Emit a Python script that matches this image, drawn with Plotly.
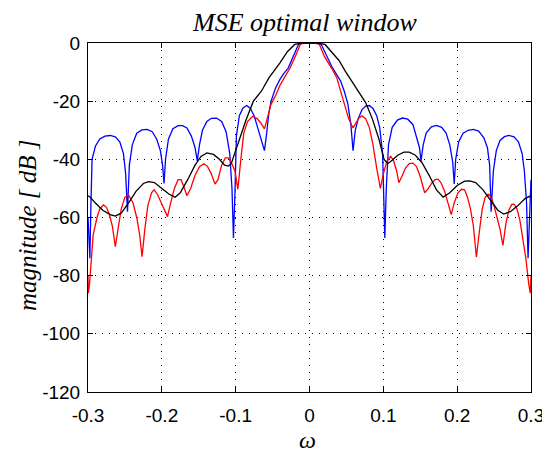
import plotly.graph_objects as go

# ---------------- data ----------------
blue_x = [-0.300, -0.2985, -0.2975, -0.2960, -0.2945, -0.2900, -0.2840, -0.2770, -0.2700, -0.2630,
          -0.2570, -0.2520, -0.2490, -0.2465, -0.2440, -0.2400, -0.2340, -0.2270, -0.2200, -0.2130,
          -0.2070, -0.2020, -0.1990, -0.1970, -0.1950, -0.1910, -0.1850, -0.1780, -0.1720, -0.1660,
          -0.1600, -0.1550, -0.1520, -0.1490, -0.1450, -0.1390, -0.1330, -0.1260, -0.1190, -0.1130,
          -0.1080, -0.1050, -0.1030, -0.1010, -0.0990, -0.0950, -0.0900, -0.0850, -0.0800, -0.0750,
          -0.0700, -0.0650, -0.0610, -0.0580, -0.0550, -0.0520, -0.0460, -0.0400, -0.0350, -0.0290,
          -0.0220, -0.0150, -0.0080, 0.0000, 0.0080, 0.0160, 0.0230, 0.0300, 0.0360, 0.0420,
          0.0470, 0.0520, 0.0560, 0.0590, 0.0620, 0.0660, 0.0710, 0.0760, 0.0810, 0.0860,
          0.0910, 0.0950, 0.0990, 0.1000, 0.1020, 0.1040, 0.1070, 0.1120, 0.1190, 0.1260,
          0.1330, 0.1400, 0.1450, 0.1490, 0.1510, 0.1540, 0.1580, 0.1650, 0.1720, 0.1790,
          0.1850, 0.1900, 0.1940, 0.1960, 0.1980, 0.2020, 0.2080, 0.2150, 0.2220, 0.2290,
          0.2360, 0.2410, 0.2440, 0.2460, 0.2490, 0.2530, 0.2580, 0.2640, 0.2700, 0.2770,
          0.2830, 0.2880, 0.2910, 0.2940, 0.2960, 0.2980, 0.2990, 0.3000]
blue_y = [-60, -70, -74, -55, -40, -35.5, -33, -32, -31.8, -32.3,
          -34, -38, -45, -58, -42, -35, -31, -29.9, -29.7, -30.5,
          -33, -37, -42, -48.3, -40, -33, -29.5, -28.4, -28.4, -29.2,
          -32, -36, -40.5, -35, -30, -27, -25.9, -25.8, -27, -30.5,
          -38, -50, -67, -52, -32, -25, -22.3, -21.5, -22.5, -25,
          -29, -33, -37, -31, -24, -20, -15.5, -12.5, -10.5, -8.7,
          -4.5, -0.5, 0, 0, 0, -0.5, -4.5, -8.0, -10.5, -13,
          -16.5, -21, -28, -37, -30, -26, -23, -21.7, -21.5, -22.5,
          -25, -29, -38, -50, -67, -50, -35, -29, -26.5, -25.8,
          -26.2, -28, -32, -36, -40.5, -35, -31, -28.8, -28.3, -29,
          -31, -35, -41, -48.5, -40, -34, -31, -30, -29.7, -30.3,
          -32.5, -36, -42, -58, -44, -37, -33.5, -32.2, -31.8, -32.3,
          -34, -38, -44, -55, -74, -62, -52, -47]

red_x = [-0.3000, -0.2995, -0.2980, -0.2960, -0.2930, -0.2878, -0.2840, -0.2790, -0.2750, -0.2710,
         -0.2670, -0.2630, -0.2590, -0.2550, -0.2500, -0.2450, -0.2390, -0.2340, -0.2300, -0.2268,
         -0.2230, -0.2190, -0.2140, -0.2105, -0.2060, -0.2010, -0.1960, -0.1923, -0.1880, -0.1830,
         -0.1780, -0.1740, -0.1700, -0.1660, -0.1610, -0.1550, -0.1490, -0.1430, -0.1380, -0.1330,
         -0.1280, -0.1240, -0.1190, -0.1140, -0.1100, -0.1060, -0.1010, -0.0970, -0.0930, -0.0890,
         -0.0840, -0.0770, -0.0710, -0.0660, -0.0610, -0.0570, -0.0520, -0.0455, -0.0400, -0.0330,
         -0.0265, -0.0190, -0.0120, -0.0050, 0.0000, 0.0050, 0.0130, 0.0200, 0.0300, 0.0370,
         0.0437, 0.0480, 0.0530, 0.0590, 0.0630, 0.0670, 0.0710, 0.0760, 0.0810, 0.0860,
         0.0910, 0.0960, 0.1000, 0.1050, 0.1100, 0.1140, 0.1180, 0.1210, 0.1250, 0.1300,
         0.1350, 0.1400, 0.1450, 0.1500, 0.1560, 0.1610, 0.1660, 0.1700, 0.1740, 0.1780,
         0.1830, 0.1880, 0.1920, 0.1960, 0.2010, 0.2060, 0.2100, 0.2140, 0.2180, 0.2220,
         0.2260, 0.2300, 0.2340, 0.2380, 0.2420, 0.2460, 0.2500, 0.2540, 0.2580, 0.2620,
         0.2660, 0.2700, 0.2740, 0.2770, 0.2810, 0.2850, 0.2890, 0.2930, 0.2970, 0.2990,
         0.3000]
red_y = [-80, -86, -83, -75, -66, -60, -57, -55.7, -56.5, -59,
         -63, -70, -63, -57, -53, -52.3, -55, -60, -66, -73.5,
         -64, -56, -51.5, -50.5, -52, -55, -58, -59.7, -55, -50,
         -47, -47, -49.5, -52.5, -50, -45.5, -42.5, -41.5, -42.5, -45,
         -48.5, -47, -42, -39.5, -39.5, -41, -44, -50.3, -40, -31,
         -27, -25.2, -26, -27.5, -29.5, -26, -21, -17.9, -14.5, -11.5,
         -8.7, -4.5, -0.3, 0, 0, 0, -0.3, -4.5, -8.7, -12,
         -17.9, -22, -26, -29.2, -27.5, -25.8, -25, -26, -29, -35,
         -43, -50, -45, -40.5, -39, -40.5, -44, -48, -46, -43,
         -41.5, -41.3, -42.5, -46, -51.5, -50, -48, -47, -46.8, -48,
         -51, -55, -59, -55, -51.5, -50.3, -50.5, -53, -57, -63,
         -73.6, -65, -57, -53, -52, -53, -56, -60, -64, -69.6,
         -62, -57.5, -55.5, -55.4, -57, -61, -67, -74, -83, -86,
         -80]

black_x = [-0.300, -0.297, -0.290, -0.280, -0.270, -0.263, -0.255, -0.245, -0.235, -0.225,
           -0.218, -0.210, -0.200, -0.190, -0.182, -0.175, -0.165, -0.155, -0.147, -0.139,
           -0.130, -0.122, -0.115, -0.110, -0.106, -0.100, -0.094, -0.086, -0.076, -0.065,
           -0.055, -0.045, -0.040, -0.030, -0.020, -0.010, 0.000, 0.010, 0.021, 0.030,
           0.040, 0.048, 0.058, 0.066, 0.076, 0.085, 0.094, 0.101, 0.106, 0.112,
           0.120, 0.128, 0.135, 0.143, 0.152, 0.162, 0.172, 0.181, 0.190, 0.200,
           0.210, 0.217, 0.225, 0.235, 0.245, 0.255, 0.263, 0.272, 0.282, 0.292,
           0.300]
black_y = [-52.5, -53, -55, -57.5, -59, -59.5, -58.5, -55, -51, -48.3,
           -47.7, -48, -50, -52, -53, -51.5, -47, -42, -39, -37.8,
           -38.3, -40, -42, -42.3, -41.5, -37, -32, -26.5, -20, -16.5,
           -12, -8.7, -6.8, -3, -0.5, 0, 0, 0, -0.5, -3,
           -6, -9.5, -13.5, -16.5, -20.5, -26, -33, -40, -41.5, -40.3,
           -38.5, -37.5, -37.5, -38.5, -41, -45.5, -50.5, -53, -51.5, -49,
           -47.5, -47.4, -48, -50.5, -54, -57.5, -58.8, -58, -56, -53.5,
           -52.5]

xtick_vals = [-0.3, -0.2, -0.1, 0, 0.1, 0.2, 0.3]
xtick_text = ["-0.3", "-0.2", "-0.1", "0", "0.1", "0.2", "0.3"]
ytick_vals = [-120, -100, -80, -60, -40, -20, 0]
ytick_text = ["-120", "-100", "-80", "-60", "-40", "-20", "0"]

title_text = "MSE optimal window"
ylabel_text = "magnitude [ dB ]"
xlabel_text = "ω"

# ---------------- figure ----------------
fig = go.Figure()
for xs, ys, col in [(blue_x, blue_y, "#0000FF"), (red_x, red_y, "#FF0000"), (black_x, black_y, "#000000")]:
    fig.add_trace(go.Scatter(x=xs, y=ys, mode="lines", line=dict(color=col, width=1.3),
                             showlegend=False, hoverinfo="skip", cliponaxis=True))

axis_common = dict(
    automargin=False,
    showline=True, linecolor="black", linewidth=1, mirror="ticks",
    ticks="inside", ticklen=5, tickcolor="black", tickwidth=1,
    showgrid=True, gridcolor="black", gridwidth=1, griddash="1px,6px",
    zeroline=False,
    tickfont=dict(family="Liberation Sans, Arial", size=19, color="black"),
)
fig.update_xaxes(range=[-0.3, 0.3], tickmode="array", tickvals=xtick_vals, ticktext=xtick_text,
                 ticklabelstandoff=6, **axis_common)
fig.update_yaxes(range=[-120, 0], tickmode="array", tickvals=ytick_vals, ticktext=ytick_text,
                 ticklabelstandoff=3, **axis_common)

# The page body adds an 8px offset, so the figure is sized to fit the 550x454 window.
serif = "Liberation Serif, Times New Roman, serif"
fig.update_layout(
    template="none",
    width=542, height=446,
    margin=dict(l=80, r=19, t=35, b=62, autoexpand=False),
    paper_bgcolor="white", plot_bgcolor="white",
    annotations=[
        dict(text="<i>" + title_text + "</i>", xref="paper", yref="paper",
             x=0.49, y=1 + 20.5 / 349, xanchor="center", yanchor="middle", showarrow=False,
             borderpad=0, font=dict(family=serif, size=26, color="black")),
        dict(text="<i>" + ylabel_text + "</i>", xref="paper", yref="paper",
             x=(27 - 88) / 443, y=(392 - 225) / 349, xanchor="center", yanchor="middle",
             textangle=-90, showarrow=False, font=dict(family=serif, size=25, color="black")),
        dict(text="<i>" + xlabel_text + "</i>", xref="paper", yref="paper",
             x=(307 - 88) / 443, y=(392 - 440) / 349, xanchor="center", yanchor="middle",
             showarrow=False, font=dict(family=serif, size=24, color="black")),
    ],
)

fig.write_html("out.html")
